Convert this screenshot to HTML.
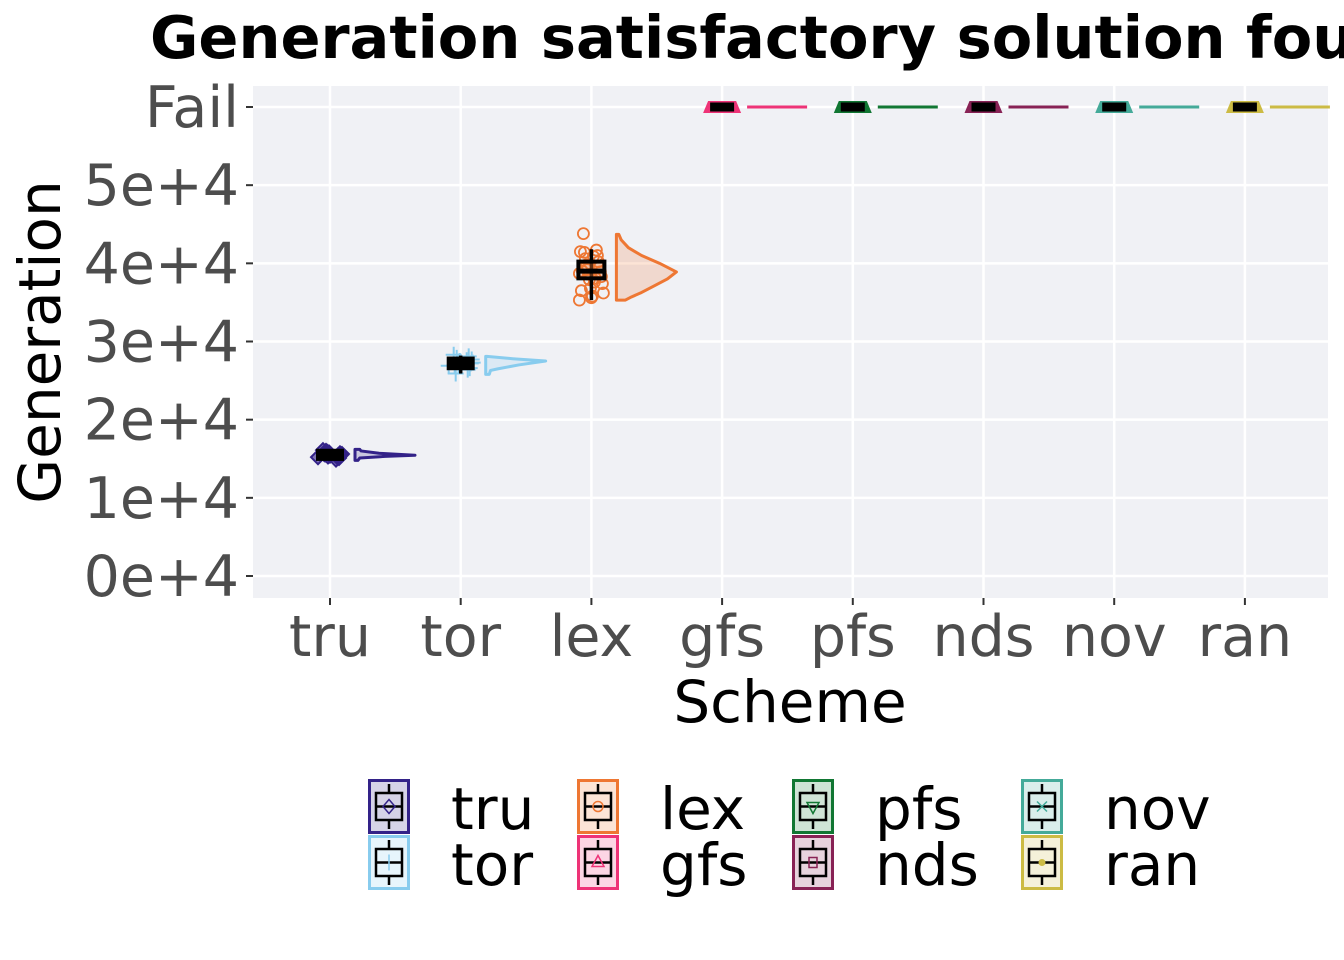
<!DOCTYPE html>
<html><head><meta charset="utf-8">
<style>
html,body{margin:0;padding:0;background:#fff;}
svg{display:block;font-family:"DejaVu Sans","Liberation Sans",sans-serif;}
</style></head>
<body>
<svg id="chart" width="1344" height="960" viewBox="0 0 1344 960" xmlns="http://www.w3.org/2000/svg">
<text x="150" y="58" font-size="59" font-weight="bold" fill="#000">Generation satisfactory solution found</text>
<rect x="253" y="86" width="1075" height="512" fill="#f0f1f5"/>
<g id="grid"></g>
<g id="marks"></g>
<g id="yaxis"></g>
<g id="xaxis"></g>
<text x="790" y="722" font-size="58" text-anchor="middle" fill="#000">Scheme</text>
<text transform="translate(60,342) rotate(-90)" font-size="58" text-anchor="middle" fill="#000">Generation</text>
<g id="legend"></g>
</svg>
<script>
const categories = ["tru","tor","lex","gfs","pfs","nds","nov","ran"];
const colors = ["#332288","#88ccee","#ee7733","#ee3377","#117733","#882255","#44aa99","#ccbb44"];
const yTicks = [0,10000,20000,30000,40000,50000,60000];
const yTickLabels = ["0e+4","1e+4","2e+4","3e+4","4e+4","5e+4","Fail"];
const medians = [15500,27200,39000,60000,60000,60000,60000,60000];
const q1s = [15300,26900,38400,60000,60000,60000,60000,60000];
const q3s = [15700,27500,39900,60000,60000,60000,60000,60000];
const whiskLo = [14900,25900,35300,60000,60000,60000,60000,60000];
const whiskHi = [16100,28200,41800,60000,60000,60000,60000,60000];
const violinTru = [[14800,0.05],[15100,0.08],[15300,0.5],[15450,1.0],[15700,0.4],[16000,0.1],[16200,0.08]];
const violinTor = [[25800,0.06],[26300,0.08],[26500,0.2],[27000,0.55],[27500,1.0],[27800,0.45],[28100,0.02]];
const violinLex = [[35300,0.15],[35700,0.25],[36200,0.4],[37000,0.6],[38000,0.85],[38900,1.0],[40000,0.72],[41000,0.42],[42000,0.2],[43000,0.08],[43700,0.04]];
const violins = [violinTru,violinTor,violinLex,null,null,null,null,null];
const pointsTru = [15200,15400,15600,15800,15500,15300,15700,15900,15100,16000,15450,15550,15250,15650,14900,16100];
const pointsTor = [26900,27100,27300,27500,27700,26800,27200,27400,26600,27900,28100,25900,26400,27000,27600,28300];
const pointsLex = [35300,35600,36200,36800,37400,37900,38300,38600,38900,39200,39500,39800,40200,40600,41000,41400,41700,43800,38100,39000,37600,36500,40900,41500,35800,38700];
const points = [pointsTru,pointsTor,pointsLex,[],[],[],[],[]];
const legendCats = ["tru","tor","lex","gfs","pfs","nds","nov","ran"];

const NS="http://www.w3.org/2000/svg";
const X0=253,X1=1328,Y0=86,Y1=598;
function xScale(i){return 330+i*130.7;}
function yScale(v){return 576-v*(576-107)/60000;}
function mk(tag,attrs,parent){const e=document.createElementNS(NS,tag);for(const k in attrs)e.setAttribute(k,attrs[k]);parent.appendChild(e);return e;}
const grid=document.getElementById('grid'),marks=document.getElementById('marks'),ya=document.getElementById('yaxis'),xa=document.getElementById('xaxis'),lg=document.getElementById('legend');

yTicks.forEach((v,k)=>{
  const y=yScale(v);
  const l=mk('line',{x1:X0,x2:X1,y1:y,y2:y,stroke:'#fff','stroke-width':2.5},grid);
  
  
  const t=mk('line',{x1:246,x2:253,y1:y,y2:y,stroke:'#333','stroke-width':2},ya);
  
  
  const tx=mk('text',{x:239,y:y+20,'font-size':57,'text-anchor':'end',fill:'#4d4d4d'},ya);
  tx.textContent=yTickLabels[k];
  
  
});
categories.forEach((c,i)=>{
  const x=xScale(i);
  const l=mk('line',{x1:x,x2:x,y1:Y0,y2:Y1,stroke:'#fff','stroke-width':2.5},grid);
  
  
  const t=mk('line',{x1:x,x2:x,y1:598,y2:605,stroke:'#333','stroke-width':2},xa);
  
  
  const tx=mk('text',{x:x,y:656,'font-size':57,'text-anchor':'middle',fill:'#4d4d4d'},xa);
  tx.textContent=c;
  
  
});

categories.forEach((c,i)=>{
  const x=xScale(i),col=colors[i];
  const g=mk('g',{},marks);
  
  
  const vx=x+25,W=60;
  const vd=violins[i];
  if(vd){
    let d='M'+vx+','+yScale(vd[0][0]);
    vd.forEach(p=>{d+=' L'+(vx+p[1]*W)+','+yScale(p[0]);});
    d+=' L'+vx+','+yScale(vd[vd.length-1][0])+' Z';
    const v=mk('path',{d:d,fill:col,'fill-opacity':0.2,stroke:col,'stroke-width':3,'stroke-linejoin':'round'},g);
    
    
  } else {
    const v=mk('line',{x1:vx,x2:vx+60,y1:yScale(medians[i]),y2:yScale(medians[i]),stroke:col,'stroke-width':3},g);
    
    
    const y=yScale(medians[i]);
    const f=mk('path',{d:`M${x-19},${y+6} L${x-14},${y-6} L${x+14},${y-6} L${x+19},${y+6} Z`,fill:col},g);
    
    
  }
  points[i].forEach((v,k)=>{
    const jx=x+((k*37)%25-12);
    const jy=yScale(v);
    let p;
    if(i===0){p=mk('path',{d:`M${jx},${jy-7} L${jx+7},${jy} L${jx},${jy+7} L${jx-7},${jy} Z`,fill:col,'fill-opacity':0.6,stroke:col,'stroke-width':2},g);}
    else if(i===1){p=mk('path',{d:`M${jx},${jy-8} L${jx},${jy+8} M${jx-8},${jy} L${jx+8},${jy}`,stroke:col,'stroke-width':2},g);}
    else {p=mk('circle',{cx:jx,cy:jy,r:5.5,fill:'none',stroke:col,'stroke-width':1.8},g);}
    
    
  });
  const bw=i<3?(i===2?22:20):16;
  const w=mk('line',{x1:x,x2:x,y1:yScale(whiskLo[i]),y2:yScale(whiskHi[i]),stroke:'#000','stroke-width':3.5},g);
  
  
  const yq3=yScale(q3s[i]),yq1=yScale(q1s[i]);
  const b=mk('rect',{x:x-bw/2-2,y:yq3-2.5,width:bw+4,height:Math.max(yq1-yq3,0)+5,fill:i===2?col:'#000','fill-opacity':i===2?0.4:1,stroke:'#000','stroke-width':4},g);
  
  
  const m=mk('line',{x1:x-bw/2-2,x2:x+bw/2+2,y1:yScale(medians[i]),y2:yScale(medians[i]),stroke:'#000','stroke-width':5},g);
  
  
});

const colX=[368,577,792,1021];
const glyphs=['diamond','bar','circle','tri','tridown','square','x','dot'];
legendCats.forEach((c,i)=>{
  const col=Math.floor(i/2),row=i%2;
  const kx=colX[col],ky=779+row*56;
  const g=mk('g',{},lg);
  
  
  mk('rect',{x:kx+1.5,y:ky+1.5,width:39,height:52,fill:colors[i],'fill-opacity':0.2,stroke:colors[i],'stroke-width':3},g);
  const cx=kx+21;
  mk('line',{x1:cx,x2:cx,y1:ky+5,y2:ky+14,stroke:'#000','stroke-width':2.5},g);
  mk('line',{x1:cx,x2:cx,y1:ky+41,y2:ky+50,stroke:'#000','stroke-width':2.5},g);
  mk('rect',{x:kx+8,y:ky+14,width:26,height:27,fill:'none',stroke:'#000','stroke-width':2.5},g);
  mk('line',{x1:kx+8,x2:kx+34,y1:ky+27.5,y2:ky+27.5,stroke:'#000','stroke-width':2.5},g);
  const cy=ky+27.5,cl=colors[i],gl=glyphs[i];
  if(gl==='diamond')mk('path',{d:`M${cx},${cy-7} L${cx+6},${cy} L${cx},${cy+7} L${cx-6},${cy} Z`,fill:'none',stroke:cl,'stroke-width':1.5},g);
  if(gl==='bar')mk('line',{x1:cx,x2:cx,y1:cy-8,y2:cy+8,stroke:cl,'stroke-width':1.5},g);
  if(gl==='circle')mk('circle',{cx:cx,cy:cy,r:5,fill:'none',stroke:cl,'stroke-width':1.5},g);
  if(gl==='tri')mk('path',{d:`M${cx},${cy-7} L${cx+6},${cy+4} L${cx-6},${cy+4} Z`,fill:'none',stroke:cl,'stroke-width':1.5},g);
  if(gl==='tridown')mk('path',{d:`M${cx},${cy+7} L${cx+6},${cy-4} L${cx-6},${cy-4} Z`,fill:'none',stroke:cl,'stroke-width':1.5},g);
  if(gl==='square')mk('rect',{x:cx-4,y:cy-5,width:8,height:10,fill:'none',stroke:cl,'stroke-width':1.5},g);
  if(gl==='x')mk('path',{d:`M${cx-5},${cy-5} L${cx+5},${cy+5} M${cx+5},${cy-5} L${cx-5},${cy+5}`,stroke:cl,'stroke-width':1.5},g);
  if(gl==='dot')mk('circle',{cx:cx,cy:cy,r:3.5,fill:cl},g);
  const t=mk('text',{x:kx+83,y:ky+50,'font-size':58,fill:'#000'},g);
  t.textContent=c;
});
</script>
</body></html>
